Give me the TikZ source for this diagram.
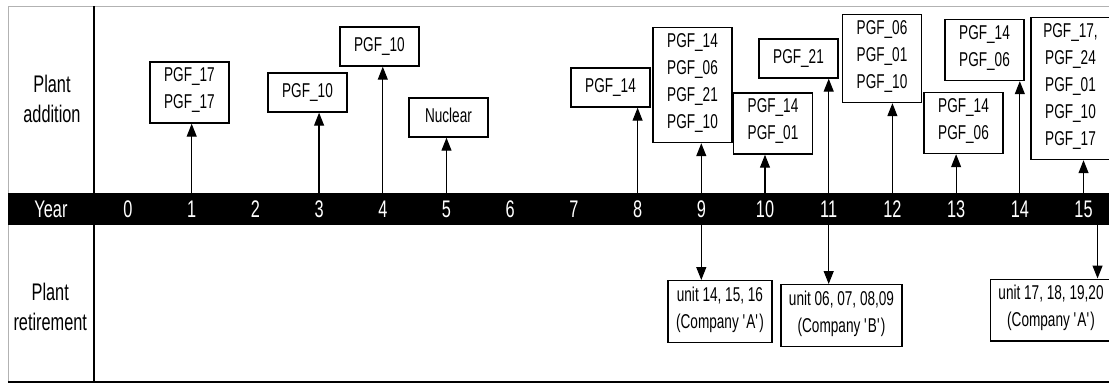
\documentclass[tikz,border=0pt]{standalone}
\usepackage{fontspec}
\setmainfont{Liberation Sans}
\newfontfamily\narrowsf{Liberation Sans}[FakeStretch=0.68]
\usetikzlibrary{arrows.meta}
\newcommand{\boxfont}{\narrowsf\fontsize{20}{27}\selectfont}
\newcommand{\rowfont}{\narrowsf\fontsize{24}{30}\selectfont}
\newcommand{\apos}{\textquotesingle}
\tikzset{
  unitbox/.style={draw, line width=1.4pt, font=\boxfont, align=center,
    minimum width=79pt, inner xsep=8pt, inner ysep=6pt,
    execute at begin node=\strut, execute at end node=\strut},
  rowlabel/.style={font=\rowfont, align=center},
  yearlabel/.style={font=\rowfont, text=white},
  event/.style={line width=1.2pt, -{Triangle[length=13pt, width=10pt]}},
}
\begin{document}
\begin{tikzpicture}[x=63.7pt, y=10pt]
  \useasboundingbox (-2.009,0) rectangle (15.40,38.5);
  % frame and column separator
  \draw[gray!60, line width=0.8pt] (-1.884,0.3) -- (-1.884,37.9) -- (15.40,37.9);
  \draw[line width=2.5pt] (-1.884,0.3) -- (15.40,0.3);
  \draw[line width=2pt] (-0.534,0.3) -- (-0.534,37.9);
  % year band
  \fill (-1.884,16.0) rectangle (15.40,19.2);
  \node[yearlabel] (year) at (-1.209,17.6) {Year};
  \foreach \k in {0,...,15} {
    \node[yearlabel] (y\k) at (\k,17.6) {\k};
    \coordinate (t\k) at (\k,19.2);
    \coordinate (d\k) at (\k,16.0);
  }
  % row labels
  \node[rowlabel] (add) at (-1.193,28.6) {Plant\\addition};
  \node[rowlabel] (ret) at (-1.22,7.8) {Plant\\retirement};
  % plant additions
  \node[unitbox] (a1) at (0.965,29.25) {PGF\_17\\PGF\_17};
  \node[unitbox] (a3) at (2.818,29.25) {PGF\_10};
  \node[unitbox] (a4) at (3.948,33.85) {PGF\_10};
  \node[unitbox] (a5) at (5.031,26.75) {Nuclear};
  \node[unitbox] (a8) at (7.575,29.75) {PGF\_14};
  \node[unitbox] (a9) at (8.862,30.0) {PGF\_14\\PGF\_06\\PGF\_21\\PGF\_10};
  \node[unitbox] (a10) at (10.126,26.15) {PGF\_14\\PGF\_01};
  \node[unitbox] (a11) at (10.526,32.65) {PGF\_21};
  \node[unitbox] (a12) at (11.837,32.65) {PGF\_06\\PGF\_01\\PGF\_10};
  \node[unitbox] (a13) at (13.116,26.2) {PGF\_14\\PGF\_06};
  \node[unitbox] (a14) at (13.446,33.5) {PGF\_14\\PGF\_06};
  \node[unitbox] (a15) at (14.796,29.65) {PGF\_17,\\PGF\_24\\PGF\_01\\PGF\_10\\PGF\_17};
  \foreach \k in {1,3,4,5,8,9,10,11,12,13,14,15}
    \draw[event] (t\k) -- (t\k |- a\k.south);
  % plant retirements
  \node[unitbox] (r9) at (9.293,7.35) {unit 14, 15, 16\\(Company \apos A\apos)};
  \node[unitbox] (r11) at (11.201,6.95) {unit 06, 07, 08,09\\(Company \apos B\apos)};
  \node[unitbox] (r15) at (14.49,7.5) {unit 17, 18, 19,20\\(Company \apos A\apos)};
  \coordinate (d15r) at (15.22,16.0);
  \draw[event] (d9) -- (d9 |- r9.north);
  \draw[event] (d11) -- (d11 |- r11.north);
  \draw[event] (d15r) -- (d15r |- r15.north);
\end{tikzpicture}
\end{document}
